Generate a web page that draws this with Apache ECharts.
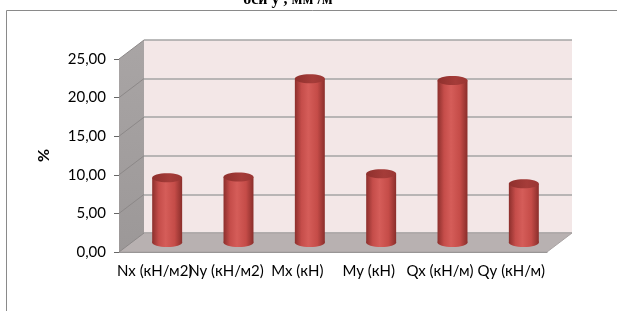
<!DOCTYPE html>
<html>
<head>
<meta charset="utf-8">
<script src="https://cdn.jsdelivr.net/npm/echarts@6/dist/echarts.min.js"></script>
<style>
html, body { margin: 0; padding: 0; background: #fff; }
#main { width: 617px; height: 311px; }
</style>
</head>
<body>
<div id="main"></div>
<script>
var categories = ['Nx (кН/м2)', 'Ny (кН/м2)', 'Mx (кН)', 'My (кН)', 'Qx (кН/м)', 'Qy (кН/м)'];
var values = [8.4, 8.5, 21.2, 8.9, 21.0, 7.6];
var yTicks = [0, 5, 10, 15, 20, 25];

// 3d look: offset from back wall to front plane
var depthX = -25, depthY = 19;

var chartDom = document.getElementById('main');
var myChart = echarts.init(chartDom);
var option;

function fmt(v) {
  return v.toFixed(2).replace('.', ',');
}

function renderWalls(params, api) {
  var cs = params.coordSys;
  var x = cs.x, y = cs.y, w = cs.width, h = cs.height;
  var children = [];
  // floor
  children.push({
    type: 'polygon',
    shape: { points: [[x, y + h], [x + w, y + h], [x + w + depthX, y + h + depthY], [x + depthX, y + h + depthY]] },
    style: { fill: '#b8b1b1', stroke: '#a8a2a2', lineWidth: 1 }
  });
  // side wall
  children.push({
    type: 'polygon',
    shape: { points: [[x, y], [x, y + h], [x + depthX, y + h + depthY], [x + depthX, y + depthY]] },
    style: {
      fill: new echarts.graphic.LinearGradient(0, 0, 0, 1, [
        { offset: 0, color: '#a9a5a5' },
        { offset: 1, color: '#9c9898' }
      ])
    }
  });
  yTicks.forEach(function (t) {
    var py = api.coord([0, t])[1];
    children.push({
      type: 'line',
      shape: { x1: x, y1: py, x2: x + depthX, y2: py + depthY },
      style: { stroke: '#8c8888', lineWidth: 1 }
    });
  });
  return { type: 'group', children: children };
}

function renderCylinder(params, api) {
  var idx = api.value(0);
  var top = api.coord([idx, api.value(1)]);
  var base = api.coord([idx, 0]);
  var cx = top[0] + depthX / 2;
  var ty = top[1] + depthY / 2;
  var by = base[1] + depthY / 2;
  var bw = api.size([1, 0])[0] * 0.42;
  var rx = bw / 2, ry = 4.5;
  var bodyFill = new echarts.graphic.LinearGradient(0, 0, 1, 0, [
    { offset: 0, color: '#8c2f2c' },
    { offset: 0.22, color: '#c54d4a' },
    { offset: 0.45, color: '#d55d59' },
    { offset: 0.75, color: '#c54c48' },
    { offset: 1, color: '#8a2e2b' }
  ]);
  return {
    type: 'group',
    children: [
      { type: 'ellipse', shape: { cx: cx, cy: by, rx: rx, ry: ry }, style: { fill: bodyFill } },
      { type: 'rect', shape: { x: cx - rx, y: ty, width: bw, height: by - ty }, style: { fill: bodyFill } },
      {
        type: 'ellipse', shape: { cx: cx, cy: ty, rx: rx, ry: ry },
        style: {
          fill: new echarts.graphic.LinearGradient(0, 0, 1, 0, [
            { offset: 0, color: '#8f302d' },
            { offset: 0.6, color: '#a53c39' },
            { offset: 1, color: '#9a3633' }
          ])
        }
      }
    ]
  };
}

option = {
  animation: false,
  textStyle: { fontFamily: 'Lato' },
  graphic: [
    {
      type: 'rect',
      shape: { x: 6.5, y: 10.5, width: 700, height: 400 },
      style: { fill: 'none', stroke: '#8a8a8a', lineWidth: 1 },
      z: -10
    },
    {
      type: 'text',
      x: 288, y: 0,
      style: {
        text: 'оси у , мм /м',
        font: 'bold 16px "Liberation Serif"',
        fill: '#000',
        align: 'center',
        verticalAlign: 'middle'
      }
    }
  ],
  grid: [
    { left: 119, top: 59, width: 428, height: 193 },
    { left: 144, top: 40, width: 428, height: 193, show: true, backgroundColor: '#f3e7e7', borderWidth: 0 }
  ],
  xAxis: [
    {
      type: 'category',
      gridIndex: 0,
      data: categories,
      axisLine: { show: true, lineStyle: { color: '#8a8a8a' } },
      axisTick: { show: false },
      axisLabel: { interval: 0, margin: 12, fontSize: 15, color: '#000', fontFamily: 'Lato' }
    },
    {
      type: 'category',
      gridIndex: 1,
      data: categories,
      axisLine: { show: false },
      axisTick: { show: false },
      axisLabel: { show: false }
    }
  ],
  yAxis: [
    {
      type: 'value',
      gridIndex: 0,
      min: 0, max: 25, interval: 5,
      name: '%',
      nameLocation: 'middle',
      nameGap: 67,
      nameRotate: 90,
      nameTextStyle: { fontSize: 16, fontWeight: 'bold', color: '#000', fontFamily: 'Lato' },
      axisLine: { show: true, lineStyle: { color: '#8a8a8a' } },
      axisTick: { show: true, length: 5, lineStyle: { color: '#666' } },
      axisLabel: { formatter: fmt, fontSize: 15, color: '#000', margin: 13, fontFamily: 'Lato' },
      splitLine: { show: false }
    },
    {
      type: 'value',
      gridIndex: 1,
      min: 0, max: 25, interval: 5,
      axisLine: { show: false },
      axisTick: { show: false },
      axisLabel: { show: false },
      splitLine: { show: true, lineStyle: { color: '#a4a4a4', width: 1.5 } }
    }
  ],
  series: [
    {
      type: 'custom',
      name: 'walls',
      xAxisIndex: 1,
      yAxisIndex: 1,
      renderItem: renderWalls,
      data: [[0, 0]],
      silent: true,
      z: 1
    },
    {
      type: 'custom',
      name: 'values',
      xAxisIndex: 1,
      yAxisIndex: 1,
      renderItem: renderCylinder,
      encode: { x: 0, y: 1 },
      data: values.map(function (v, i) { return [i, v]; }),
      z: 3
    }
  ]
};

if (chartDom && myChart) {
  myChart.setOption(option);
} else {
  console.error('Failed to initialize the chart');
}
</script>
</body>
</html>
